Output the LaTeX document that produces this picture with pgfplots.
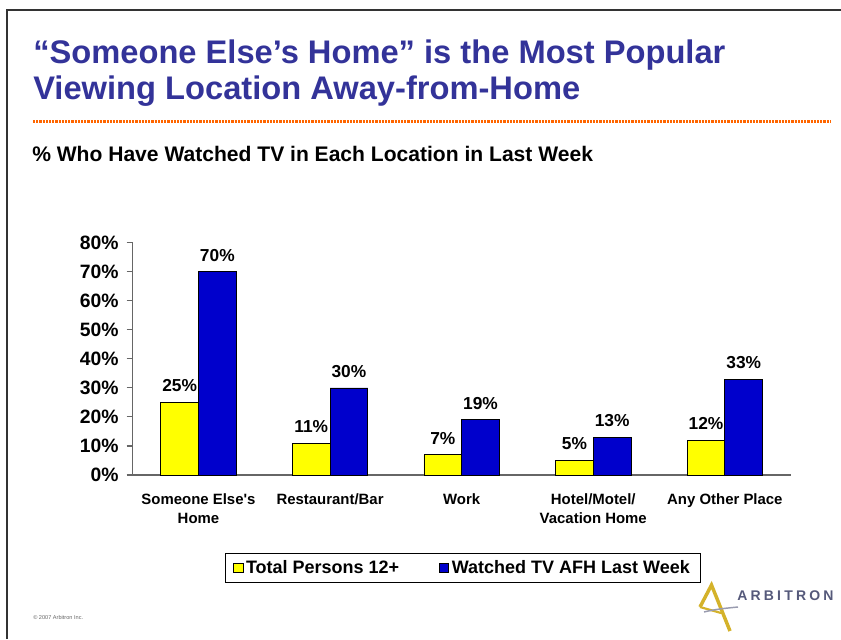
\documentclass[border=0pt]{standalone}
\usepackage{pgfplots}
\pgfplotsset{compat=1.18}
\usepackage{fontspec}
\setmainfont{Liberation Sans}
\definecolor{titleblue}{HTML}{333399}
\definecolor{baryellow}{HTML}{FFFF00}
\definecolor{barblue}{HTML}{0000CC}
\definecolor{dotorange}{HTML}{FF6600}
\definecolor{logogold}{HTML}{D4B22A}
\definecolor{logogray}{HTML}{55597A}
\begin{document}
\begin{tikzpicture}[x=0.75pt,y=0.75pt]
\useasboundingbox (0,0) rectangle (841,639);
% slide frame
\draw[line width=1pt,black!80] (7,0) -- (7,629) -- (841,629);
% title
\node[anchor=base west,inner sep=0,text=titleblue,font=\fontsize{24.5}{28}\selectfont\bfseries] at (33,575.5) {“Someone Else’s Home” is the Most Popular};
\node[anchor=base west,inner sep=0,text=titleblue,font=\fontsize{24.5}{28}\selectfont\bfseries] at (33,539) {Viewing Location Away-from-Home};
\draw[dotorange,line width=2.6pt,dash pattern=on 1.6pt off 0.8pt] (33,517.3) -- (830,517.3);
\node[anchor=base west,inner sep=0,font=\fontsize{15.8}{18}\selectfont\bfseries] at (32,477.8) {\% Who Have Watched TV in Each Location in Last Week};
% copyright
\node[anchor=base west,inner sep=0,text=black!60,font=\fontsize{4.2}{5}\selectfont] at (33,20) {© 2007 Arbitron Inc.};
% logo
\draw[logogold,line width=2.6pt,line join=miter] (700,32) -- (711.5,54) -- (730,8);
\draw[logogold,line width=1.6pt] (700,32) -- (721,26);
\draw[logogray!60,line width=1.1pt] (704,27) .. controls (716,30) and (728,31) .. (738,32);
\node[anchor=base west,inner sep=0,text=logogray,font=\fontsize{10.5}{13}\selectfont\bfseries] at (737,38.3) {A\kern2.4pt R\kern2.4pt B\kern2.4pt I\kern2.4pt T\kern2.4pt R\kern2.4pt O\kern2.4pt N};
\begin{axis}[
  at={(99.5pt,123pt)}, anchor=south west,
  scale only axis, width=493.5pt, height=174.2pt,
  ybar=0pt, bar width=28.3pt,
  xmin=-0.5, xmax=4.5, ymin=0, ymax=80,
  axis x line=bottom, axis y line=left,
  axis line style={-, black!60, line width=0.8pt},
  xtick={0,1,2,3,4},
  xticklabels={{Someone Else\textquotesingle s\\Home},{Restaurant/Bar},{Work},{Hotel/Motel/\\Vacation Home},{Any Other Place}},
  x tick style={draw=none},
  extra x ticks={-0.5,0.5,1.5,2.5,3.5,4.5},
  extra x tick labels={},
  extra x tick style={tick style={draw=black!60,line width=0.8pt}, major tick length=3pt, tick align=outside},
  xticklabel style={align=center, font=\fontsize{11.2}{14.2}\selectfont\bfseries, yshift=-6pt},
  ytick={0,10,...,80},
  yticklabel={\pgfmathprintnumber{\tick}\%},
  yticklabel style={font=\fontsize{14.5}{16}\selectfont\bfseries, xshift=-2.5pt},
  /pgf/number format/assume math mode=true,
  y tick style={black!60,line width=0.8pt}, tick align=outside, major tick length=4.5pt,
  nodes near coords={\pgfmathprintnumber{\pgfplotspointmeta}\%},
  every node near coord/.append style={font=\fontsize{13}{15}\selectfont\bfseries, anchor=south, inner sep=0pt, yshift=7.5pt},
  legend style={at={(0.502,-0.400)}, anchor=center, draw=black, line width=0.8pt, legend columns=2,
    font=\fontsize{13.5}{16}\selectfont\bfseries, inner xsep=6pt, inner ysep=3pt,
    /tikz/every even column/.append style={column sep=28pt}},
  legend image code/.code={\draw[#1,line width=0.6pt] (0pt,-3.4pt) rectangle (6.8pt,3.4pt);},
  legend cell align=left,
]
\addplot[fill=baryellow, draw=black, line width=0.6pt] coordinates {(0,25) (1,11) (2,7) (3,5) (4,12)};
\addplot[fill=barblue, draw=black, line width=0.6pt] coordinates {(0,70) (1,30) (2,19) (3,13) (4,33)};
\legend{Total Persons 12+, Watched TV AFH Last Week}
\end{axis}
\end{tikzpicture}
\end{document}
